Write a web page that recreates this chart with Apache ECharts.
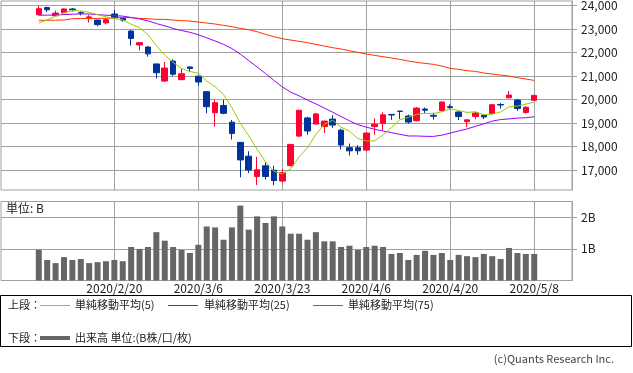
<!DOCTYPE html>
<html><head><meta charset="utf-8">
<script src="https://cdn.jsdelivr.net/npm/echarts@6/dist/echarts.min.js"></script>
<style>html,body{margin:0;padding:0;background:#fff;}#c{width:633px;height:373px;}</style>
</head><body><div id="c"></div>
<script>
const dates = ['2020/2/6','2020/2/7','2020/2/10','2020/2/12','2020/2/13','2020/2/14','2020/2/17','2020/2/18','2020/2/19','2020/2/20','2020/2/21','2020/2/25','2020/2/26','2020/2/27','2020/2/28','2020/3/2','2020/3/3','2020/3/4','2020/3/5','2020/3/6','2020/3/9','2020/3/10','2020/3/11','2020/3/12','2020/3/13','2020/3/16','2020/3/17','2020/3/18','2020/3/19','2020/3/23','2020/3/24','2020/3/25','2020/3/26','2020/3/27','2020/3/30','2020/3/31','2020/4/1','2020/4/2','2020/4/3','2020/4/6','2020/4/7','2020/4/8','2020/4/9','2020/4/10','2020/4/13','2020/4/14','2020/4/15','2020/4/16','2020/4/17','2020/4/20','2020/4/21','2020/4/22','2020/4/23','2020/4/24','2020/4/27','2020/4/28','2020/4/30','2020/5/1','2020/5/7','2020/5/8'];
const openP = [23616,23920,23573,23701,23860,23700,23500,23390,23270,23645,23460,22920,22330,22240,21520,20790,21640,20850,21390,21000,20340,19440,19750,19040,18180,17590,16720,17180,16990,16530,17190,18446,19220,18960,18850,19170,18700,17950,17950,17850,18850,18990,19370,19510,19300,19100,19600,19330,19530,19700,19470,19060,19280,19340,19410,19790,20080,19980,19450,19970];
const closeP = [23873,23827,23685,23861,23827,23687,23523,23194,23400,23479,23386,22605,22426,21948,21142,21344,21082,21100,21329,20749,19698,19867,19416,18560,17431,17002,17011,16726,16552,16887,18092,19546,18664,19389,19084,18917,18065,17818,17820,18576,18950,19353,19345,19498,19043,19638,19550,19290,19897,19669,19280,19137,19429,19262,19783,19771,20193,19619,19674,20179];
const lowP = [23590,23730,23560,23690,23757,23586,23290,23117,23200,23450,23320,22300,22090,21830,20900,20750,21000,20830,21170,20590,19420,18850,19380,18300,16690,16870,16360,16600,16358,16470,17150,18400,18500,18950,18578,18800,17871,17620,17650,17800,18500,18700,19140,19180,18980,19070,19420,19150,19500,19580,19130,18830,19170,19170,19400,19620,20050,19520,19400,19950];
const highP = [23995,23960,23790,23880,23900,23757,23600,23400,23480,23820,23490,22950,22440,22280,21530,21600,21720,21330,21400,21020,20340,19990,19990,19130,18180,17800,17560,17340,17180,17050,18100,19564,19270,19440,19100,19330,18760,18130,18060,18600,19200,19460,19380,19520,19360,19680,19660,19440,19922,19800,19510,19160,19470,19350,19800,19850,20370,20030,19720,20190];
const ma5 = [23260,23400,23550,23700,23790,23777,23717,23618,23526,23457,23396,23213,23059,22769,22301,21893,21588,21323,21199,21121,20792,20549,20212,19658,18994,18455,17884,17346,16944,16836,17054,17561,17948,18516,18955,19120,18824,18655,18341,18239,18246,18503,18809,19144,19238,19375,19415,19404,19484,19609,19537,19455,19482,19355,19378,19476,19688,19726,19808,19887];
const ma25 = [23595,23598,23602,23620,23636,23650,23646,23620,23595,23578,23556,23499,23433,23356,23240,23142,23032,22942,22867,22762,22631,22497,22355,22174,21938,21663,21390,21112,20819,20542,20318,20159,19978,19817,19641,19463,19281,19097,18932,18829,18733,18664,18594,18521,18452,18450,18437,18432,18486,18575,18666,18751,18860,18968,19084,19151,19177,19215,19226,19270];
const ma75 = [23375,23380,23385,23390,23446,23450,23455,23460,23460,23490,23503,23490,23460,23446,23418,23418,23390,23361,23347,23304,23262,23219,23162,23105,23034,22978,22892,22779,22680,22594,22537,22481,22424,22353,22282,22211,22154,22083,22012,21941,21884,21827,21771,21714,21643,21586,21543,21501,21430,21330,21288,21231,21203,21132,21089,21046,21004,20933,20876,20819];
const volume = [0.97,0.65,0.55,0.74,0.65,0.68,0.55,0.58,0.61,0.65,0.61,1.06,1.0,1.06,1.53,1.26,1.06,0.97,0.87,1.13,1.71,1.68,1.29,1.68,2.37,1.61,2.03,1.82,2.03,1.71,1.48,1.48,1.29,1.53,1.24,1.24,1.06,1.10,0.97,1.06,1.10,1.06,0.84,0.87,0.65,0.81,0.94,0.81,0.87,0.65,0.81,0.77,0.74,0.84,0.77,0.68,1.03,0.87,0.84,0.84];
const xLabels = ['2020/2/20','2020/3/6','2020/3/23','2020/4/6','2020/4/20','2020/5/8'];
const priceTicks = [17000,18000,19000,20000,21000,22000,23000,24000];
const volTicks = [1,2];
const legendNames = ['単純移動平均(5)','単純移動平均(25)','単純移動平均(75)'];
const volName = '出来高 単位:(B株/口/枚)';

const FONT = '"Noto Sans CJK JP", "Noto Sans", sans-serif';
const GRIDC = '#a0a0a0';
const PAD_L = 4, PAD_R = 4;
const cats = [];
for (let i = 0; i < PAD_L; i++) cats.push('L' + i);
dates.forEach(d => cats.push(d));
for (let i = 0; i < PAD_R; i++) cats.push('R' + i);
const padArr = (a, empty) => [...Array(PAD_L).fill(empty), ...a, ...Array(PAD_R).fill(empty)];
const candles = padArr(dates.map((d, i) => [openP[i], closeP[i], lowP[i], highP[i]]), ['-','-','-','-']);

const vLines = (z) => ({
  silent: true, symbol: ['none','none'], z: z, animation: false,
  label: {show: false},
  lineStyle: {color: GRIDC, width: 1, type: 'solid'},
  emphasis: {disabled: true},
  data: xLabels.map(d => ({xAxis: d}))
});

const chart = echarts.init(document.getElementById('c'), null, {renderer: 'canvas'});
const xBase = {
  type: 'category', data: cats, boundaryGap: true,
  axisLine: {show: false}, axisTick: {show: false}, splitLine: {show: false}
};
const LF = 11;
const option = {
  animation: false,
  backgroundColor: '#fff',
  textStyle: {fontFamily: FONT},
  grid: [
    {left: 1, right: 61, top: 1, height: 189, show: true, borderColor: GRIDC, borderWidth: 1, outerBoundsMode: 'none', containLabel: false},
    {left: 1, right: 61, top: 201.5, height: 79, show: true, borderColor: GRIDC, borderWidth: 1, outerBoundsMode: 'none', containLabel: false}
  ],
  xAxis: [
    Object.assign({}, xBase, {gridIndex: 0, axisLabel: {show: false}}),
    Object.assign({}, xBase, {gridIndex: 1, axisLabel: {
      show: true, color: '#222', fontSize: 12, margin: 2, fontFamily: FONT,
      interval: (idx, val) => xLabels.indexOf(val) >= 0,
      formatter: v => xLabels.indexOf(v) >= 0 ? v : ''
    }})
  ],
  yAxis: [
    {gridIndex: 0, type: 'value', position: 'right', min: 16150, max: 24200, scale: true,
     axisLine: {show: true, lineStyle: {color: GRIDC}},
     axisTick: {show: true, length: 5, customValues: priceTicks, lineStyle: {color: GRIDC}},
     axisLabel: {show: true, customValues: priceTicks, color: '#222', fontSize: 12, margin: 9, fontFamily: FONT,
       formatter: v => Number(v).toLocaleString('en-US')},
     splitLine: {show: true, lineStyle: {color: GRIDC, width: 1}}},
    {gridIndex: 1, type: 'value', position: 'right', min: 0, max: 2.5,
     axisLine: {show: true, lineStyle: {color: GRIDC}},
     axisTick: {show: true, length: 5, customValues: volTicks, lineStyle: {color: GRIDC}},
     axisLabel: {show: true, customValues: volTicks, color: '#222', fontSize: 12, margin: 9, fontFamily: FONT,
       formatter: v => (v === 0 ? '' : v + 'B')},
     splitLine: {show: true, lineStyle: {color: GRIDC, width: 1}}}
  ],
  series: [
    {type: 'candlestick', name: 'price', xAxisIndex: 0, yAxisIndex: 0, data: candles, barWidth: 6, z: 2,
     itemStyle: {color: '#ff0033', color0: '#003399', borderColor: '#ff0033', borderColor0: '#003399', borderWidth: 1},
     markLine: vLines(1)},
    {type: 'line', name: legendNames[2], xAxisIndex: 0, yAxisIndex: 0, data: padArr(ma75, '-'), symbol: 'none', z: 3,
     lineStyle: {color: '#ff3300', width: 1}},
    {type: 'line', name: legendNames[1], xAxisIndex: 0, yAxisIndex: 0, data: padArr(ma25, '-'), symbol: 'none', z: 3,
     lineStyle: {color: '#9900ff', width: 1}},
    {type: 'line', name: legendNames[0], xAxisIndex: 0, yAxisIndex: 0, data: padArr(ma5, '-'), symbol: 'none', z: 3,
     lineStyle: {color: '#99cc00', width: 1}},
    {type: 'bar', name: volName, xAxisIndex: 1, yAxisIndex: 1, data: padArr(volume, '-'), barWidth: 6, z: 2,
     itemStyle: {color: '#666666'}, markLine: vLines(1)}
  ],
  graphic: [
    {type: 'text', left: 6, top: 202, style: {text: '単位: B', fontSize: 12, fill: '#222', fontFamily: FONT}},
    {type: 'rect', shape: {x: 0.5, y: 295.5, width: 631, height: 51}, style: {fill: 'none', stroke: '#000', lineWidth: 1}},
    {type: 'text', x: 8, y: 305, style: {text: '上段：', fontSize: LF, fill: '#222', fontFamily: FONT, verticalAlign: 'middle'}},
    {type: 'line', shape: {x1: 40, y1: 305.5, x2: 70, y2: 305.5}, style: {stroke: '#99cc00', lineWidth: 1}},
    {type: 'text', x: 75, y: 305, style: {text: legendNames[0], fontSize: LF, fill: '#222', fontFamily: FONT, verticalAlign: 'middle'}},
    {type: 'line', shape: {x1: 168, y1: 305.5, x2: 198, y2: 305.5}, style: {stroke: '#9900ff', lineWidth: 1}},
    {type: 'text', x: 204, y: 305, style: {text: legendNames[1], fontSize: LF, fill: '#222', fontFamily: FONT, verticalAlign: 'middle'}},
    {type: 'line', shape: {x1: 313, y1: 305.5, x2: 343, y2: 305.5}, style: {stroke: '#ff3300', lineWidth: 1}},
    {type: 'text', x: 348, y: 305, style: {text: legendNames[2], fontSize: LF, fill: '#222', fontFamily: FONT, verticalAlign: 'middle'}},
    {type: 'text', x: 8, y: 338, style: {text: '下段：', fontSize: LF, fill: '#222', fontFamily: FONT, verticalAlign: 'middle'}},
    {type: 'line', shape: {x1: 40, y1: 338, x2: 70, y2: 338}, style: {stroke: '#666666', lineWidth: 4}},
    {type: 'text', x: 75, y: 338, style: {text: volName, fontSize: LF, fill: '#222', fontFamily: FONT, verticalAlign: 'middle'}},
    {type: 'text', x: 614, y: 359, style: {text: '(c)Quants Research Inc.', fontSize: 11, fill: '#444', fontFamily: FONT, align: 'right', verticalAlign: 'middle'}}
  ]
};
chart.setOption(option);
</script>
</body></html>
